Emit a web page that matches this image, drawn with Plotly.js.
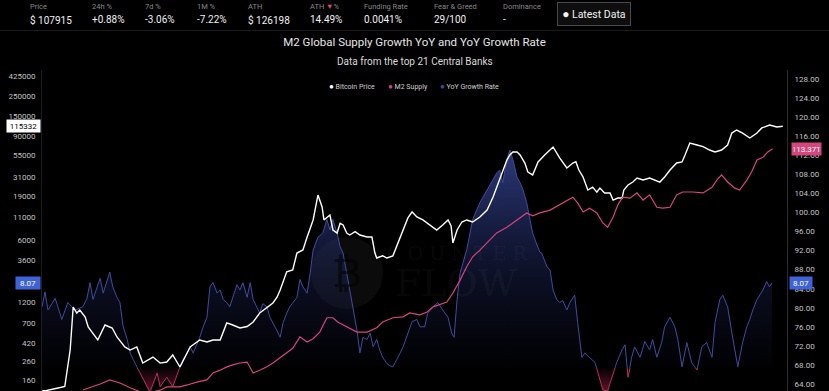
<!DOCTYPE html>
<html>
<head>
<meta charset="utf-8">
<script src="https://cdn.plot.ly/plotly-3.0.1.min.js"></script>
<style>
html,body{margin:0;padding:0;background:#000;}
#chart{width:829px;height:391px;}
</style>
</head>
<body>
<div id="chart"></div>
<script>
// ---------------- DATA ----------------
const headerLabels = ['Price','24h %','7d %','1M %','ATH','ATH <span style="color:#e0457b">▼</span>%','Funding Rate','Fear & Greed','Dominance'];
const headerValues = ['$ 107915','+0.88%','-3.06%','-7.22%','$ 126198','14.49%','0.0041%','29/100','-'];

const seriesNames = ['Bitcoin Price','M2 Supply','YoY Growth Rate'];

const btcYears = [2013.37,2013.45,2013.64,2013.75,2013.84,2013.89,2013.95,2014.00,2014.09,2014.14,2014.20,2014.30,2014.42,2014.54,2014.62,2014.75,2014.84,2014.95,2015.05,2015.22,2015.34,2015.45,2015.55,2015.67,2015.84,2016.00,2016.12,2016.22,2016.34,2016.45,2016.55,2016.67,2016.79,2016.89,2017.00,2017.12,2017.22,2017.29,2017.34,2017.45,2017.55,2017.62,2017.72,2017.79,2017.89,2017.97,2018.04,2018.07,2018.12,2018.17,2018.22,2018.29,2018.34,2018.39,2018.45,2018.50,2018.59,2018.67,2018.79,2018.87,2018.92,2018.95,2019.05,2019.12,2019.22,2019.29,2019.39,2019.47,2019.54,2019.62,2019.72,2019.84,2019.95,2020.05,2020.14,2020.19,2020.22,2020.29,2020.37,2020.45,2020.55,2020.67,2020.79,2020.89,2021.00,2021.12,2021.17,2021.22,2021.29,2021.34,2021.42,2021.47,2021.55,2021.64,2021.75,2021.89,2022.00,2022.12,2022.22,2022.27,2022.32,2022.39,2022.47,2022.55,2022.62,2022.67,2022.75,2022.84,2022.89,2022.97,2023.04,2023.07,2023.14,2023.22,2023.29,2023.39,2023.50,2023.59,2023.67,2023.75,2023.84,2023.95,2024.04,2024.09,2024.17,2024.29,2024.39,2024.50,2024.59,2024.70,2024.80,2024.87,2024.95,2025.05,2025.17,2025.29,2025.37,2025.50,2025.62,2025.72];
const btcPrice = [120,122,130,135,350,1060,908,983,820,632,556,451,666,616,488,377,348,377,248,290,248,255,306,224,377,451,428,451,451,702,666,616,640,720,908,1060,1178,1376,1650,2650,2773,4305,4660,6518,10140,19360,14200,10140,10960,11540,7820,7230,9300,8910,7230,6870,7500,6870,6520,6520,4305,3780,4000,3780,4000,5300,7820,10700,12480,10960,10140,8910,7820,8910,10140,8700,5580,7820,9620,10140,9620,10960,13130,18400,28600,48000,54700,59100,59100,54700,44400,35200,32600,45600,54700,67300,50600,39000,44400,46000,37000,30900,22070,23800,20900,23200,20400,20400,17000,17900,17900,22070,25100,27100,30100,28600,30100,28600,27100,30900,37000,44400,45600,54700,74600,70900,68000,62200,59100,62200,70900,96600,104500,96600,85000,96600,110200,119000,113000,115332];

const m2Years = [2014.05,2014.22,2014.34,2014.50,2014.67,2014.84,2015.00,2015.17,2015.34,2015.45,2015.67,2015.79,2015.95,2016.12,2016.22,2016.34,2016.45,2016.55,2016.67,2016.79,2016.89,2017.00,2017.12,2017.22,2017.34,2017.45,2017.55,2017.67,2017.79,2017.89,2018.00,2018.12,2018.22,2018.30,2018.45,2018.62,2018.79,2018.95,2019.05,2019.22,2019.39,2019.50,2019.67,2019.79,2019.89,2020.00,2020.12,2020.22,2020.34,2020.45,2020.55,2020.67,2020.79,2020.95,2021.12,2021.22,2021.34,2021.45,2021.55,2021.67,2021.84,2022.00,2022.12,2022.22,2022.30,2022.39,2022.50,2022.62,2022.72,2022.80,2022.89,2022.97,2023.05,2023.17,2023.29,2023.39,2023.50,2023.62,2023.72,2023.84,2023.95,2024.05,2024.22,2024.39,2024.54,2024.62,2024.70,2024.80,2024.92,2025.00,2025.12,2025.20,2025.29,2025.39,2025.47,2025.55];
const m2Supply = [62.75,63.4,64.0,64.85,64.2,63.2,62.4,62.2,62.7,63.4,63.4,63.8,64.4,64.85,66.3,66.9,67.6,68.0,68.4,68.6,66.3,66.9,67.6,68.4,69.5,70.5,71.5,73.9,72.8,73.5,74.9,77.9,77.9,77.0,76.0,74.9,74.9,75.8,77.0,77.9,78.1,78.9,78.5,79.1,80.2,80.6,81.2,83.1,85.8,88.6,90.7,92.1,93.6,95.7,96.9,97.8,98.8,99.9,99.3,99.9,100.5,101.6,102.6,103.2,102.0,100.1,100.9,99.9,97.8,96.9,99.0,101.6,103.2,103.0,104.1,102.6,103.7,101.1,100.9,101.1,103.7,104.3,104.3,104.1,105.3,106.8,107.9,106.4,105.1,104.7,106.8,108.5,111.0,111.6,112.7,113.37];

const yoyYears = [2013.37,2013.42,2013.47,2013.59,2013.64,2013.70,2013.80,2013.92,2014.05,2014.12,2014.17,2014.22,2014.29,2014.34,2014.39,2014.45,2014.50,2014.55,2014.62,2014.67,2014.72,2014.79,2014.84,2014.89,2014.95,2015.05,2015.17,2015.29,2015.34,2015.45,2015.55,2015.67,2015.72,2015.79,2015.84,2015.89,2016.00,2016.05,2016.12,2016.17,2016.22,2016.29,2016.34,2016.39,2016.45,2016.50,2016.55,2016.62,2016.67,2016.72,2016.79,2016.84,2016.89,2016.95,2017.00,2017.05,2017.12,2017.17,2017.22,2017.29,2017.34,2017.39,2017.45,2017.50,2017.62,2017.67,2017.72,2017.79,2017.84,2017.89,2017.97,2018.05,2018.12,2018.17,2018.22,2018.29,2018.34,2018.39,2018.45,2018.50,2018.55,2018.62,2018.67,2018.72,2018.79,2018.84,2018.89,2018.95,2019.00,2019.05,2019.12,2019.17,2019.22,2019.29,2019.34,2019.39,2019.47,2019.54,2019.62,2019.67,2019.75,2019.80,2019.89,2019.97,2020.05,2020.14,2020.20,2020.24,2020.29,2020.34,2020.45,2020.55,2020.67,2020.79,2020.89,2020.95,2021.00,2021.05,2021.12,2021.17,2021.22,2021.29,2021.34,2021.39,2021.45,2021.50,2021.55,2021.62,2021.67,2021.70,2021.79,2021.84,2021.89,2021.95,2022.00,2022.05,2022.12,2022.17,2022.25,2022.30,2022.37,2022.42,2022.50,2022.59,2022.64,2022.72,2022.80,2022.89,2022.95,2023.04,2023.09,2023.14,2023.20,2023.25,2023.34,2023.42,2023.50,2023.55,2023.62,2023.70,2023.75,2023.84,2023.92,2023.97,2024.04,2024.12,2024.20,2024.29,2024.37,2024.45,2024.54,2024.59,2024.67,2024.72,2024.80,2024.89,2024.97,2025.05,2025.12,2025.17,2025.22,2025.29,2025.39,2025.45,2025.50,2025.54];
const yoyRate = [5.8,7.2,5.5,6.6,5.7,4.6,6.2,5.5,5.8,6.6,8.1,6.5,7.7,8.5,7.1,8.1,9.1,7.7,6.7,6.2,4.0,2.7,1.4,0.8,0.1,-1.0,-2.3,-0.5,-1.8,-0.9,-1.8,0.1,0.8,1.4,2.0,1.4,2.9,3.8,4.8,7.7,8.1,7.1,7.4,6.5,6.2,5.8,6.7,7.9,7.4,8.1,6.7,8.1,6.5,5.8,5.2,6.1,5.8,4.8,4.3,3.5,2.9,4.3,5.2,5.8,6.7,8.4,7.7,7.1,9.0,11.2,12.4,12.8,14.1,13.1,14.1,12.8,11.5,10.9,9.0,7.4,5.8,3.6,1.4,2.9,2.7,3.3,2.0,2.7,1.7,1.0,0.4,0.2,0.1,0.8,1.4,2.0,3.3,4.4,4.6,3.9,3.9,5.2,5.8,6.2,5.5,4.8,3.3,2.9,6.5,9.0,11.2,14.1,15.7,16.9,17.9,18.5,18.8,17.6,19.8,20.7,19.8,18.1,17.6,16.9,15.7,14.2,12.8,11.7,11.0,10.9,9.6,9.3,7.4,6.5,6.2,6.4,5.5,6.2,6.9,4.3,1.0,1.4,1.0,0.5,-0.5,-2.1,-2.2,-0.5,0.5,1.7,2.2,-0.9,1.0,2.0,1.0,2.5,1.7,2.7,1.0,2.4,3.9,4.8,3.9,2.7,0.1,2.4,0.5,-0.2,2.0,2.4,1.0,4.3,6.5,6.9,5.8,2.7,0.1,2.4,3.9,4.6,5.5,6.5,7.4,8.2,7.7,8.07];

const btcTickVals = [160,260,420,700,1200,2200,3600,6000,11000,19000,31000,55000,90000,150000,250000,425000];
const m2TickVals = [64,68,72,76,80,84,88,92,96,100,104,108,112,116,120,124,128];

// ---------------- LAYOUT HELPERS ----------------
const L = 42, T = 70, W = 745, H = 321;
const px = x => (x - L) / W;
const py = y => (T + H - y) / H;

const C_BTC = '#ffffff', C_M2 = '#d4467c', C_YOY = '#414c9e', C_NEG = '#b8325e', C_LBL = '#3f63d6';
const FONT = 'Roboto, "Liberation Sans", Arial, sans-serif';

const xRange = [2013.37, 2025.79];
const yoyRange = [-2.2, 28.3];
const d0 = -yoyRange[0] / (yoyRange[1] - yoyRange[0]);

const last = a => a[a.length - 1];

const traces = [
  { x: yoyYears, y: yoyRate, xaxis: 'x', yaxis: 'y', type: 'scatter', mode: 'lines',
    line: { color: C_NEG, width: 1 }, fill: 'tozeroy',
    fillgradient: { type: 'vertical', start: yoyRange[0], stop: 0,
      colorscale: [[0, 'rgba(170,35,75,0.55)'], [1, 'rgba(170,35,75,0.02)']] },
    showlegend: false, hoverinfo: 'skip' },
  { x: yoyYears, y: yoyRate, xaxis: 'x', yaxis: 'y2', type: 'scatter', mode: 'lines',
    line: { color: C_YOY, width: 1 }, fill: 'tozeroy',
    fillgradient: { type: 'vertical', start: 0, stop: 21,
      colorscale: [[0, 'rgba(25,30,70,0.05)'], [0.5, 'rgba(35,45,105,0.45)'], [1, 'rgba(55,70,150,0.85)']] },
    showlegend: false, hoverinfo: 'skip' },
  { x: btcYears, y: btcPrice, xaxis: 'x', yaxis: 'y3', type: 'scatter', mode: 'lines',
    line: { color: C_BTC, width: 1.4 }, showlegend: false, hoverinfo: 'skip' },
  { x: m2Years, y: m2Supply, xaxis: 'x', yaxis: 'y4', type: 'scatter', mode: 'lines',
    line: { color: C_M2, width: 1.2 }, showlegend: false, hoverinfo: 'skip' }
];

const annotations = [];
const headerX = [28, 90, 143, 195, 246, 308, 362, 432, 501];
headerLabels.forEach((t, i) => {
  annotations.push({ xref: 'paper', yref: 'paper', x: px(headerX[i]), y: py(6.5), text: t, showarrow: false,
    xanchor: 'left', yanchor: 'middle', font: { family: FONT, size: 7.5, color: '#888888' } });
  annotations.push({ xref: 'paper', yref: 'paper', x: px(headerX[i]), y: py(20), text: headerValues[i], showarrow: false,
    xanchor: 'left', yanchor: 'middle', font: { family: FONT, size: 10, color: '#f0f0f0' } });
});
annotations.push({ xref: 'paper', yref: 'paper', x: px(594), y: py(14), text: '<span style="font-size:12px">●</span> Latest Data',
  showarrow: false, xanchor: 'center', yanchor: 'middle', font: { family: FONT, size: 10.5, color: '#f2f2f2' },
  bgcolor: '#0e0e0e', bordercolor: '#4a4a4a', borderwidth: 1, borderpad: 4, width: 64, height: 14 });

annotations.push({ xref: 'paper', yref: 'paper', x: px(414.5), y: py(61.5), text: 'Data from the top 21 Central Banks',
  showarrow: false, xanchor: 'center', yanchor: 'middle', font: { family: FONT, size: 10, color: '#d9d9d9' } });

const legendX = [327, 386, 438];
const legendC = [C_BTC, C_M2, C_YOY];
seriesNames.forEach((n, i) => {
  annotations.push({ xref: 'paper', yref: 'paper', x: px(legendX[i]), y: py(86.5),
    text: '<span style="color:' + legendC[i] + ';font-size:8px">●</span> ' + n,
    showarrow: false, xanchor: 'left', yanchor: 'middle', font: { family: FONT, size: 7, color: '#cfcfcf' } });
});

annotations.push({ xref: 'paper', yref: 'paper', x: px(457), y: py(253), text: 'C O U N T E R', showarrow: false,
  xanchor: 'center', yanchor: 'middle', font: { family: '"DejaVu Serif", serif', size: 19, color: 'rgba(255,255,255,0.055)' } });
annotations.push({ xref: 'paper', yref: 'paper', x: px(456), y: py(283), text: 'FLOW', showarrow: false,
  xanchor: 'center', yanchor: 'middle', font: { family: '"DejaVu Serif", serif', size: 38, color: 'rgba(255,255,255,0.055)' } });
annotations.push({ xref: 'paper', yref: 'paper', x: px(347), y: py(273), text: '₿', showarrow: false,
  xanchor: 'center', yanchor: 'middle', font: { family: '"DejaVu Sans", sans-serif', size: 40, color: 'rgba(0,0,0,0.55)' } });

annotations.push({ xref: 'paper', yref: 'y3', x: 0, y: Math.log10(last(btcPrice)), text: String(last(btcPrice)),
  showarrow: false, xanchor: 'right', yanchor: 'middle', xshift: -1, font: { family: FONT, size: 8, color: '#000' },
  bgcolor: '#ffffff', borderpad: 1.5, width: 30 });
annotations.push({ xref: 'paper', yref: 'y2', x: 0, y: last(yoyRate), text: String(last(yoyRate)),
  showarrow: false, xanchor: 'right', yanchor: 'middle', xshift: -1, font: { family: FONT, size: 8, color: '#fff' },
  bgcolor: C_LBL, borderpad: 1.5, width: 21 });
annotations.push({ xref: 'paper', yref: 'y4', x: 1, y: last(m2Supply), text: last(m2Supply).toFixed(2) + 'T',
  showarrow: false, xanchor: 'left', yanchor: 'middle', xshift: 4, font: { family: FONT, size: 8, color: '#fff' },
  bgcolor: C_M2, borderpad: 1.5, width: 26 });
annotations.push({ xref: 'paper', yref: 'y2', x: 1, y: last(yoyRate), text: String(last(yoyRate)),
  showarrow: false, xanchor: 'left', yanchor: 'middle', xshift: 2, font: { family: FONT, size: 8, color: '#fff' },
  bgcolor: C_LBL, borderpad: 1.5, width: 19 });

const shapes = [
  { type: 'line', xref: 'paper', yref: 'paper', x0: px(0), x1: px(829), y0: py(30.5), y1: py(30.5),
    line: { color: '#1b1b1b', width: 1 } },
  { type: 'circle', xref: 'paper', yref: 'paper', x0: px(311), x1: px(383), y0: py(309), y1: py(237),
    fillcolor: 'rgba(255,255,255,0.045)', line: { width: 0 }, layer: 'below' }
];

const layout = {
  width: 829, height: 391,
  paper_bgcolor: '#000', plot_bgcolor: 'rgba(0,0,0,0)',
  margin: { l: L, r: 829 - L - W, t: T, b: 391 - T - H, pad: 0 },
  showlegend: false,
  title: { text: 'M2 Global Supply Growth YoY and YoY Growth Rate', x: 0.5, xanchor: 'center',
    y: 1 - 42 / 391, yref: 'container', yanchor: 'middle',
    font: { family: FONT, size: 11.5, color: '#e6e6e6' } },
  xaxis: { range: xRange, visible: false, anchor: 'y3', domain: [0, 1], fixedrange: true },
  yaxis: { range: [yoyRange[0], 0], domain: [0, d0], visible: false, anchor: 'x', fixedrange: true },
  yaxis2: { range: [0, yoyRange[1]], domain: [d0, 1], visible: false, anchor: 'x', fixedrange: true },
  yaxis3: { type: 'log', range: [2.080, 5.695], domain: [0, 1], anchor: 'x', side: 'left',
    tickmode: 'array', tickvals: btcTickVals, ticktext: btcTickVals.map(String),
    showgrid: false, zeroline: false, showline: true, linecolor: '#1e1e1e', linewidth: 1,
    ticks: '', ticklabelstandoff: 4, automargin: false,
    tickfont: { family: FONT, size: 8, color: '#c4c4c4' } },
  yaxis4: { range: [62.53, 129.9], overlaying: 'y3', side: 'right', anchor: 'x',
    tickmode: 'array', tickvals: m2TickVals, ticksuffix: 'T', tickformat: '.2f',
    showgrid: false, zeroline: false, showline: true, linecolor: '#2e2e2e', linewidth: 1,
    ticks: '', ticklabelstandoff: 5, automargin: false,
    tickfont: { family: FONT, size: 8, color: '#c4c4c4' } },
  annotations: annotations,
  shapes: shapes
};

Plotly.newPlot('chart', traces, layout, { displayModeBar: false, staticPlot: true });
</script>
</body>
</html>
